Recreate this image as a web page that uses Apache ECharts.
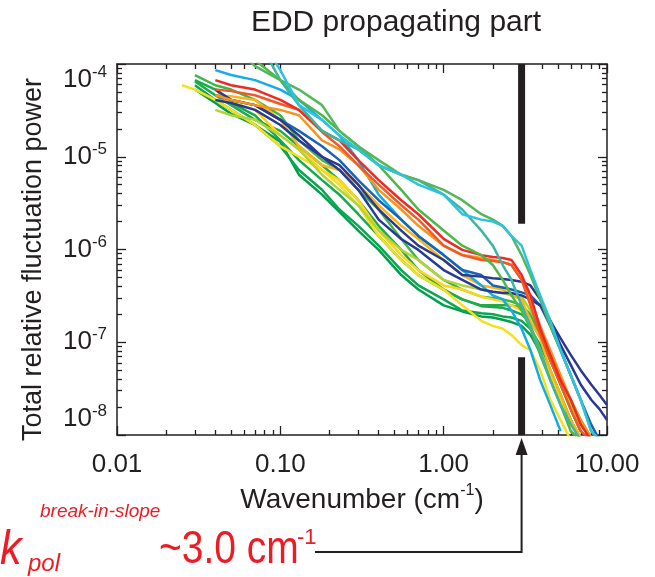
<!DOCTYPE html>
<html><head><meta charset="utf-8">
<script src="https://cdn.jsdelivr.net/npm/echarts@6/dist/echarts.min.js"></script>
<style>html,body{margin:0;padding:0;background:#fff}#c{width:655px;height:577px}</style>
</head><body><div id="c"></div>
<script>
// ---- data (wavenumber grid, cm^-1) ----
const kGrid = [0.025,0.03,0.04,0.05,0.07,0.1,0.13,0.18,0.23,0.3,0.4,0.55,0.7,1.0,1.3,1.7,2.0,2.3,2.6,3.0,3.4,3.9,4.5,5.2,6.0,6.9,8.0,9.0,10];
const cyanUpper  = [null,null,null,null,2.3e-4,8.6e-5,3.6e-5,2.5e-5,1.7e-5,1.2e-5,8.1e-6,6.4e-6,5.0e-6,3.9e-6,2.4e-6,2.1e-6,2.0e-6,1.8e-6,1.4e-6,1.1e-6,6.0e-7,3.2e-7,1.7e-7,8.2e-8,4.4e-8,2.4e-8,1.1e-8,8.8e-9,null];
const greenUpper = [null,null,null,1.6e-4,9.5e-5,6.7e-5,5.3e-5,3.6e-5,1.9e-5,1.3e-5,9.2e-6,6.4e-6,5.6e-6,4.4e-6,3.4e-6,2.4e-6,2.1e-6,1.8e-6,1.4e-6,8.7e-7,5.3e-7,2.9e-7,1.5e-7,8.2e-8,4.4e-8,2.4e-8,1.1e-8,8.8e-9,null];
const teal       = [null,null,null,null,2.1e-4,6.7e-5,3.6e-5,1.9e-5,1.5e-5,1.2e-5,8.1e-6,6.4e-6,5.6e-6,3.9e-6,2.7e-6,1.6e-6,1.1e-6,6.8e-7,4.7e-7,2.5e-7,1.5e-7,8.2e-8,3.9e-8,2.1e-8,1.3e-8,8.8e-9,null,null,null];
const greenMid   = [null,null,null,null,1.1e-4,6.7e-5,4.1e-5,2.8e-5,1.9e-5,1.3e-5,8.1e-6,4.4e-6,2.7e-6,1.6e-6,1.1e-6,8.7e-7,6.8e-7,4.7e-7,3.2e-7,2.2e-7,1.4e-7,7.3e-8,3.9e-8,2.1e-8,1.1e-8,8.8e-9,null,null,null];
const red        = [null,null,6.7e-5,5.9e-5,5.3e-5,4.1e-5,3.2e-5,1.9e-5,1.5e-5,9.2e-6,5.6e-6,3.4e-6,2.4e-6,1.3e-6,9.9e-7,8.7e-7,8.3e-7,8.1e-7,7.7e-7,5.3e-7,3.2e-7,1.4e-7,7.3e-8,3.9e-8,2.4e-8,1.3e-8,8.8e-9,null,null];
const orangeRed  = [null,null,5.3e-5,5.1e-5,4.6e-5,3.7e-5,3.2e-5,1.85e-5,1.3e-5,8.1e-6,5.0e-6,3.0e-6,2.1e-6,1.1e-6,8.7e-7,7.7e-7,7.5e-7,7.3e-7,6.8e-7,4.7e-7,2.5e-7,1.2e-7,6.4e-8,3.5e-8,1.9e-8,1.1e-8,8.8e-9,null,null];
const orange     = [null,null,4.6e-5,4.1e-5,3.6e-5,3.2e-5,2.8e-5,1.5e-5,1.2e-5,8.1e-6,4.4e-6,2.7e-6,1.8e-6,1.1e-6,8.7e-7,8.1e-7,7.7e-7,7.3e-7,6.8e-7,4.7e-7,2.9e-7,1.5e-7,8.2e-8,4.4e-8,2.4e-8,1.45e-8,9.5e-9,null,null];
const navy       = [null,null,5.3e-5,4.1e-5,3.6e-5,2.5e-5,1.7e-5,1.0e-5,8.1e-6,5.0e-6,2.7e-6,1.6e-6,1.1e-6,7.7e-7,5.3e-7,5.1e-7,4.9e-7,4.8e-7,4.7e-7,4.5e-7,4.1e-7,2.9e-7,1.7e-7,1.1e-7,7.3e-8,5.0e-8,3.5e-8,2.7e-8,2.1e-8];
const navy2      = [null,null,4.1e-5,3.8e-5,3.2e-5,2.2e-5,1.5e-5,1.0e-5,7.2e-6,4.4e-6,2.1e-6,1.3e-6,9.9e-7,6.0e-7,4.7e-7,3.7e-7,3.5e-7,3.4e-7,3.4e-7,3.2e-7,2.9e-7,2.5e-7,1.7e-7,9.3e-8,5.7e-8,3.5e-8,2.4e-8,1.9e-8,1.45e-8];
const blue       = [null,null,4.6e-5,4.1e-5,3.6e-5,2.5e-5,1.9e-5,1.3e-5,9.2e-6,5.6e-6,3.4e-6,2.1e-6,1.4e-6,8.7e-7,6.0e-7,5.3e-7,4.1e-7,3.9e-7,3.7e-7,3.45e-7,3.2e-7,2.5e-7,1.5e-7,8.2e-8,4.4e-8,2.4e-8,1.3e-8,8.8e-9,null];
const lightBlue  = [null,null,8.6e-5,7.6e-5,6.7e-5,5.3e-5,4.1e-5,2.5e-5,1.7e-5,9.2e-6,3.9e-6,2.1e-6,1.4e-6,8.7e-7,6.0e-7,4.1e-7,3.2e-7,2.9e-7,2.2e-7,1.4e-7,8.2e-8,3.9e-8,2.1e-8,1.1e-8,null,null,null,null,null];
const lime       = [null,null,3.2e-5,2.8e-5,2.5e-5,1.7e-5,1.2e-5,6.4e-6,4.4e-6,3.0e-6,1.6e-6,9.9e-7,7.7e-7,4.7e-7,4.1e-7,3.7e-7,3.5e-7,3.4e-7,3.2e-7,3.1e-7,2.2e-7,1.4e-7,7.3e-8,3.9e-8,2.1e-8,1.1e-8,null,null,null];
const gold       = [null,null,4.6e-5,4.5e-5,4.1e-5,2.5e-5,1.3e-5,8.1e-6,7.2e-6,5.0e-6,3.0e-6,1.8e-6,1.3e-6,7.7e-7,5.3e-7,4.1e-7,3.9e-7,3.7e-7,3.2e-7,2.9e-7,1.7e-7,1.1e-7,5.0e-8,2.7e-8,1.45e-8,9.5e-9,null,null,null];
const yellowLong = [5.9e-5,5.3e-5,4.1e-5,3.2e-5,2.2e-5,1.3e-5,1.0e-5,7.2e-6,5.0e-6,3.0e-6,1.4e-6,7.7e-7,5.3e-7,3.7e-7,2.5e-7,1.7e-7,1.5e-7,1.4e-7,1.2e-7,9.3e-8,8.2e-8,5.0e-8,2.4e-8,1.45e-8,8.8e-9,null,null,null,null];
const yellow2    = [null,null,4.1e-5,3.9e-5,3.2e-5,1.7e-5,1.2e-5,7.2e-6,5.6e-6,3.4e-6,1.6e-6,8.7e-7,6.0e-7,4.1e-7,3.7e-7,3.1e-7,2.9e-7,2.75e-7,2.5e-7,2.2e-7,1.5e-7,8.2e-8,4.4e-8,2.4e-8,1.1e-8,8.8e-9,null,null,null];
const darkGreen  = [null,5.9e-5,4.1e-5,3.2e-5,2.2e-5,1.3e-5,7.2e-6,4.4e-6,2.7e-6,1.8e-6,1.1e-6,6.0e-7,4.1e-7,2.9e-7,2.2e-7,2.05e-7,2.0e-7,1.9e-7,1.85e-7,1.7e-7,1.4e-7,9.3e-8,5.0e-8,2.7e-8,1.45e-8,8.8e-9,null,null,null];
const green2     = [null,6.7e-5,5.3e-5,3.8e-5,2.8e-5,1.5e-5,9.2e-6,5.6e-6,3.9e-6,2.4e-6,1.4e-6,7.7e-7,5.3e-7,3.7e-7,2.9e-7,2.45e-7,2.4e-7,2.35e-7,2.2e-7,2.0e-7,1.65e-7,1.15e-7,6.4e-8,3.5e-8,1.9e-8,1.1e-8,null,null,null];
const greenLight = [null,7.6e-5,5.9e-5,5.3e-5,4.1e-5,2.8e-5,1.5e-5,9.2e-6,7.2e-6,4.4e-6,2.7e-6,1.3e-6,7.7e-7,4.7e-7,3.7e-7,3.1e-7,3.0e-7,2.9e-7,2.75e-7,2.5e-7,2.0e-7,1.2e-7,6.4e-8,3.5e-8,1.9e-8,1.1e-8,null,null,null];
const green3     = [null,6.5e-5,4.6e-5,3.6e-5,2.5e-5,1.9e-5,1.3e-5,8.1e-6,5.6e-6,3.4e-6,1.8e-6,9.9e-7,6.0e-7,3.7e-7,2.9e-7,2.5e-7,2.5e-7,2.5e-7,2.5e-7,2.35e-7,2.0e-7,1.3e-7,7.3e-8,4.1e-8,2.4e-8,1.45e-8,9.2e-9,null,null];
const green4     = [null,5.3e-5,3.8e-5,2.9e-5,2.2e-5,1.45e-5,6.4e-6,3.9e-6,2.55e-6,1.6e-6,9.9e-7,5.3e-7,3.7e-7,2.5e-7,2.15e-7,1.9e-7,1.85e-7,1.75e-7,1.65e-7,1.5e-7,1.2e-7,7.8e-8,4.4e-8,2.5e-8,1.45e-8,9.2e-9,null,null,null];

const xMajor = [0.01, 0.1, 1, 10];
const xMinor = [0.02,0.03,0.04,0.05,0.06,0.07,0.08,0.09,0.2,0.3,0.4,0.5,0.6,0.7,0.8,0.9,2,3,4,5,6,7,8,9];
const yMajor = [1e-8, 1e-7, 1e-6, 1e-5, 1e-4];
const yMinor = [2e-8,3e-8,4e-8,5e-8,6e-8,7e-8,8e-8,9e-8,2e-7,3e-7,4e-7,5e-7,6e-7,7e-7,8e-7,9e-7,2e-6,3e-6,4e-6,5e-6,6e-6,7e-6,8e-6,9e-6,2e-5,3e-5,4e-5,5e-5,6e-5,7e-5,8e-5,9e-5];
const breakK = 3.0;
const upperBar = [1e-4, 1.9e-6];
const lowerBar = [6.9e-8, 1e-8];

const curves = [
  ['green4', green4, '#009F4D'], ['darkGreen', darkGreen, '#0AA650'], ['green2', green2, '#13AB4B'],
  ['green3', green3, '#22AA4A'], ['greenLight', greenLight, '#3EB54A'], ['yellowLong', yellowLong, '#F7E01A'],
  ['yellow2', yellow2, '#FFD51C'], ['lime', lime, '#B2D235'], ['gold', gold, '#FBB616'],
  ['lightBlue', lightBlue, '#12ACE8'], ['blue', blue, '#1C63B4'], ['navy2', navy2, '#283A97'],
  ['navy', navy, '#2B3990'], ['orange', orange, '#F7931E'], ['orangeRed', orangeRed, '#F15A24'],
  ['red', red, '#EE2A24'], ['greenMid', greenMid, '#4DB848'], ['teal', teal, '#3BB6A2'],
  ['greenUpper', greenUpper, '#52B85A'], ['cyanUpper', cyanUpper, '#2CC3DE']
];

const FONT = "'Liberation Sans', Arial, Helvetica, sans-serif";
const INK = '#231F20';
const RED = '#ED1C24';

const chart = echarts.init(document.getElementById('c'), null, {renderer: 'canvas'});

function xAx(pos, ticks, len, main) {
  return {
    type: 'log', logBase: 10, min: 0.01, max: 10, position: pos,
    axisLine: {show: main, onZero: false, lineStyle: {color: INK, width: 1.5}},
    axisTick: {show: true, inside: true, length: len, customValues: ticks, lineStyle: {color: INK, width: 1.3}},
    axisLabel: main && pos === 'bottom' ? {
      show: true, customValues: xMajor, formatter: v => Number(v).toFixed(2),
      fontSize: 26, color: INK, fontFamily: FONT, margin: 17
    } : {show: false},
    splitLine: {show: false}, minorTick: {show: false},
    name: main && pos === 'bottom' ? 'Wavenumber (cm{s|-1})' : '',
    nameLocation: 'middle', nameGap: 42,
    nameTextStyle: {fontSize: 28, color: INK, fontFamily: FONT, lineHeight: 34,
      rich: {s: {fontSize: 16, color: INK, fontFamily: FONT, lineHeight: 16, verticalAlign: 'top'}}}
  };
}
function yAx(pos, ticks, len, main) {
  return {
    type: 'log', logBase: 10, min: 1e-8, max: 1e-4, position: pos,
    axisLine: {show: main, onZero: false, lineStyle: {color: INK, width: 1.5}},
    axisTick: {show: true, inside: true, length: len, customValues: ticks, lineStyle: {color: INK, width: 1.3}},
    axisLabel: main && pos === 'left' ? {
      show: true, customValues: yMajor, margin: 10,
      verticalAlignMinLabel: 'bottom', verticalAlignMaxLabel: 'top',
      formatter: v => '{b|10}{s|' + Math.round(Math.log10(v)) + '}',
      rich: {
        b: {fontSize: 26, color: INK, fontFamily: FONT, lineHeight: 32},
        s: {fontSize: 17, color: INK, fontFamily: FONT, lineHeight: 17, verticalAlign: 'top'}
      }
    } : {show: false},
    splitLine: {show: false}, minorTick: {show: false},
    name: main && pos === 'left' ? 'Total relative fluctuation power' : '',
    nameLocation: 'middle', nameGap: 70, nameRotate: 90,
    nameTextStyle: {fontSize: 27, color: INK, fontFamily: FONT, padding: [0, 20, 0, 0]}
  };
}

const series = curves.map(([name, vals, color]) => ({
  name, type: 'line', xAxisIndex: 0, yAxisIndex: 0,
  data: kGrid.map((k, i) => vals[i] == null ? null : [k, vals[i]]).filter(p => p),
  showSymbol: false, symbol: 'none', clip: true, z: 2,
  lineStyle: {color, width: 2.5}
}));
series.push({
  name: 'breakUpper', type: 'line', data: [[breakK, upperBar[0]], [breakK, upperBar[1]]],
  symbol: 'none', z: 5, lineStyle: {color: INK, width: 7, cap: 'butt'}
});
series.push({
  name: 'breakLower', type: 'line', data: [[breakK, lowerBar[0]], [breakK, lowerBar[1]]],
  symbol: 'none', z: 5, lineStyle: {color: INK, width: 7, cap: 'butt'}
});

chart.setOption({
  animation: false,
  backgroundColor: '#fff',
  grid: {left: 117, right: 48, top: 64, bottom: 142, containLabel: false},
  xAxis: [xAx('bottom', xMajor, 9, true), xAx('bottom', xMinor, 5, false),
          xAx('top', xMajor, 9, true), xAx('top', xMinor, 5, false)],
  yAxis: [yAx('left', yMajor, 9, true), yAx('left', yMinor, 5, false),
          yAx('right', yMajor, 9, true), yAx('right', yMinor, 5, false)],
  series
});

const bx = chart.convertToPixel({xAxisIndex: 0}, breakK);
const by = chart.convertToPixel({yAxisIndex: 0}, 1e-8);
const lineY = 552;
chart.setOption({
  graphic: [
    {type: 'text', x: 396, y: 23, style: {text: 'EDD propagating part', font: '30px ' + FONT, fill: INK, textAlign: 'center', textVerticalAlign: 'middle'}},
    {type: 'polygon', shape: {points: [[bx, by + 3], [bx - 6, by + 20], [bx + 6, by + 20]]}, style: {fill: INK}},
    {type: 'polyline', shape: {points: [[bx, by + 18], [bx, lineY], [315, lineY]]}, style: {stroke: INK, lineWidth: 2, fill: null}},
    {type: 'text', x: 0, y: 551, scaleX: 0.9, style: {text: 'k', font: 'italic 48px ' + FONT, fill: RED, textVerticalAlign: 'middle'}},
    {type: 'text', x: 28, y: 564, style: {text: 'pol', font: 'italic 24px ' + FONT, fill: RED, textVerticalAlign: 'middle'}},
    {type: 'text', x: 40, y: 512, style: {text: 'break-in-slope', font: 'italic 19px ' + FONT, fill: RED, textVerticalAlign: 'middle'}},
    {type: 'text', x: 159, y: 550, scaleX: 0.83, style: {text: '~3.0 cm', font: '47px ' + FONT, fill: RED, textVerticalAlign: 'middle'}},
    {type: 'text', x: 297, y: 538, style: {text: '-1', font: '22px ' + FONT, fill: RED, textVerticalAlign: 'middle'}}
  ]
});
</script>
</body></html>
